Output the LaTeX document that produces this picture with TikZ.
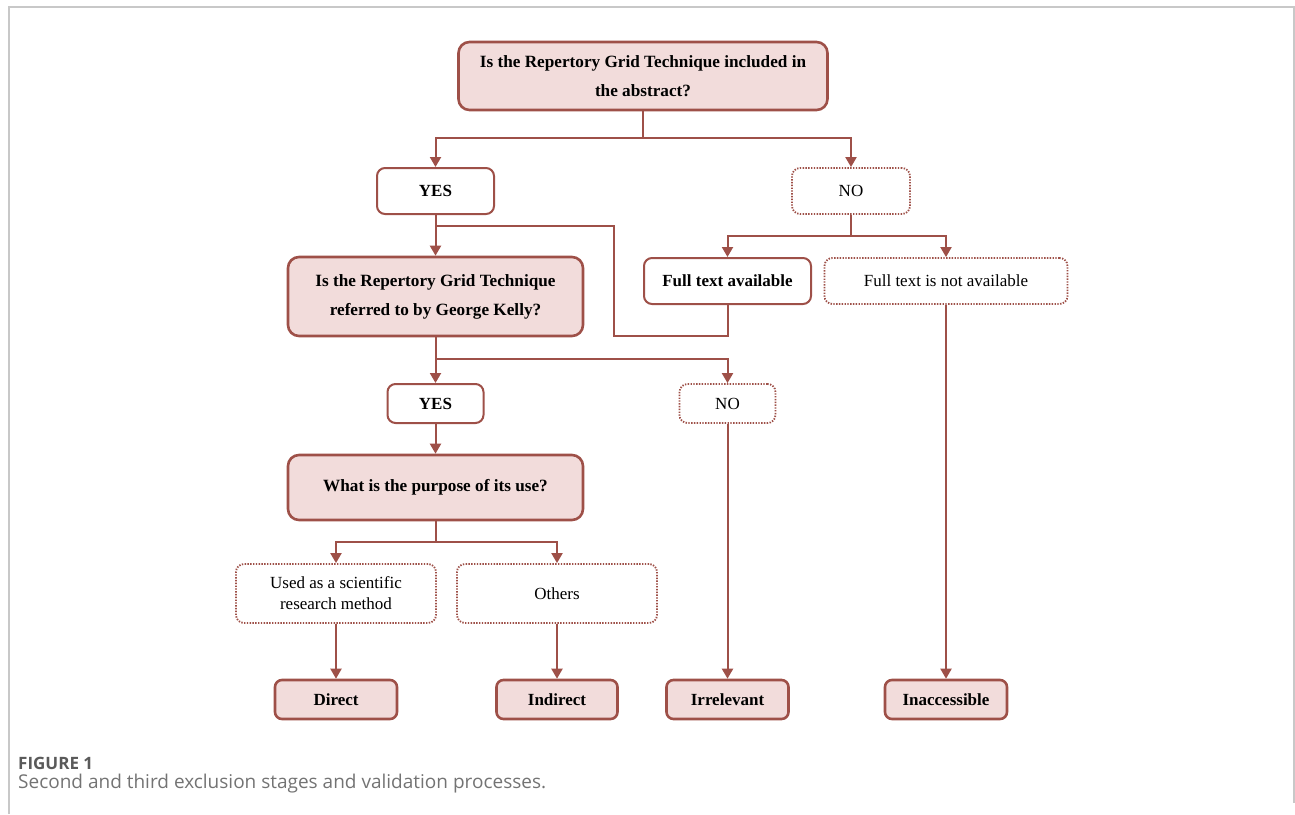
\documentclass[tikz,border=0pt]{standalone}
\usepackage{fontspec}
\setmainfont{Liberation Serif}
\newfontfamily\capfont{Open Sans}
\usetikzlibrary{arrows.meta}
\definecolor{brd}{HTML}{9E5048}
\definecolor{pinkfill}{HTML}{F2DCDB}
\definecolor{framegray}{HTML}{C8C8C8}
\definecolor{capgray}{HTML}{5A5A5A}
\tikzset{
  box/.style={draw=brd, rounded corners=8pt, align=center, inner sep=2pt, font=\fontsize{17}{29}\selectfont},
  qbox/.style={box, fill=pinkfill, line width=2.6pt, rounded corners=11pt, font=\bfseries\fontsize{17.2}{29}\selectfont},
  endbox/.style={box, fill=pinkfill, line width=2.6pt, rounded corners=7pt, font=\bfseries\fontsize{17}{18}\selectfont},
  solidbox/.style={box, fill=white, line width=2pt, font=\bfseries\fontsize{17}{18}\selectfont},
  dotbox/.style={box, fill=white, line width=1.8pt, dash pattern=on 1.4pt off 1.4pt, font=\fontsize{17}{21}\selectfont},
  conn/.style={draw=brd, line width=2pt},
  arr/.style={conn, -{Triangle[width=11pt,length=10pt]}}
}
\begin{document}
\begin{tikzpicture}[x=1pt,y=-1pt]
\useasboundingbox (0,0) rectangle (1295,814);
% frame
\draw[framegray, line width=2pt] (9,814) -- (9,7) -- (1294,7) -- (1294,803);
% nodes
\node[qbox, minimum width=369pt, minimum height=68pt] (q1) at (643,76) {Is the Repertory Grid Technique included in\\the abstract?};
\node[solidbox, minimum width=117pt, minimum height=46pt] (yes1) at (435.5,191) {YES};
\node[dotbox, minimum width=118pt, minimum height=46pt] (no1) at (851,191) {NO};
\node[solidbox, minimum width=167pt, minimum height=46pt] (fta) at (727.5,281) {Full text available};
\node[dotbox, minimum width=243pt, minimum height=46pt] (ftna) at (946,281) {Full text is not available};
\node[qbox, minimum width=295pt, minimum height=79pt] (q2) at (435.5,296.5) {Is the Repertory Grid Technique\\referred to by George Kelly?};
\node[solidbox, minimum width=96pt, minimum height=39pt] (yes2) at (435.5,403.5) {YES};
\node[dotbox, minimum width=96pt, minimum height=39pt] (no2) at (727.5,403.5) {NO};
\node[qbox, minimum width=295pt, minimum height=65pt] (q3) at (435.5,487.5) {What is the purpose of its use?};
\node[dotbox, minimum width=200pt, minimum height=59pt] (used) at (336,593.5) {Used as a scientific\\research method};
\node[dotbox, minimum width=200pt, minimum height=59pt] (others) at (557,593.5) {Others};
\node[endbox, minimum width=122pt, minimum height=39pt] (direct) at (336,699.5) {Direct};
\node[endbox, minimum width=121pt, minimum height=39pt] (indirect) at (557,699.5) {Indirect};
\node[endbox, minimum width=122pt, minimum height=39pt] (irrel) at (727.5,699.5) {Irrelevant};
\node[endbox, minimum width=122pt, minimum height=39pt] (inacc) at (946,699.5) {Inaccessible};
% branch points
\coordinate (b1) at (643,138);
\coordinate (b2) at (851,236);
\coordinate (b3) at (435.5,359);
\coordinate (b4) at (435.5,542);
\coordinate (l1) at (614,336);
\coordinate (l2) at (614,226);
% connectors
\draw[arr] (q1.south) -- (b1) -| (yes1.north);
\draw[arr] (b1) -| (no1.north);
\draw[arr] (yes1.south) -- (q2.north);
\draw[conn] (fta.south) |- (l1) -- (l2) -- (l2 -| yes1.south);
\draw[arr] (no1.south) -- (b2) -| (fta.north);
\draw[arr] (b2) -| (ftna.north);
\draw[arr] (q2.south) -- (b3) -| (no2.north);
\draw[arr] (b3) -- (yes2.north);
\draw[arr] (yes2.south) -- (q3.north);
\draw[arr] (q3.south) -- (b4) -| (used.north);
\draw[arr] (b4) -| (others.north);
\draw[arr] (used.south) -- (direct.north);
\draw[arr] (others.south) -- (indirect.north);
\draw[arr] (no2.south) -- (irrel.north);
\draw[arr] (ftna.south) -- (inacc.north);
% caption
\node[anchor=west, inner sep=0pt, text=capgray, font=\capfont\bfseries\fontsize{17}{20}\selectfont] (cap1) at (18,763) {FIGURE 1};
\node[anchor=west, inner sep=0pt, text=capgray!85, font=\capfont\fontsize{19}{22}\selectfont] (cap2) at (18,784) {Second and third exclusion stages and validation processes.};
\end{tikzpicture}
\end{document}
